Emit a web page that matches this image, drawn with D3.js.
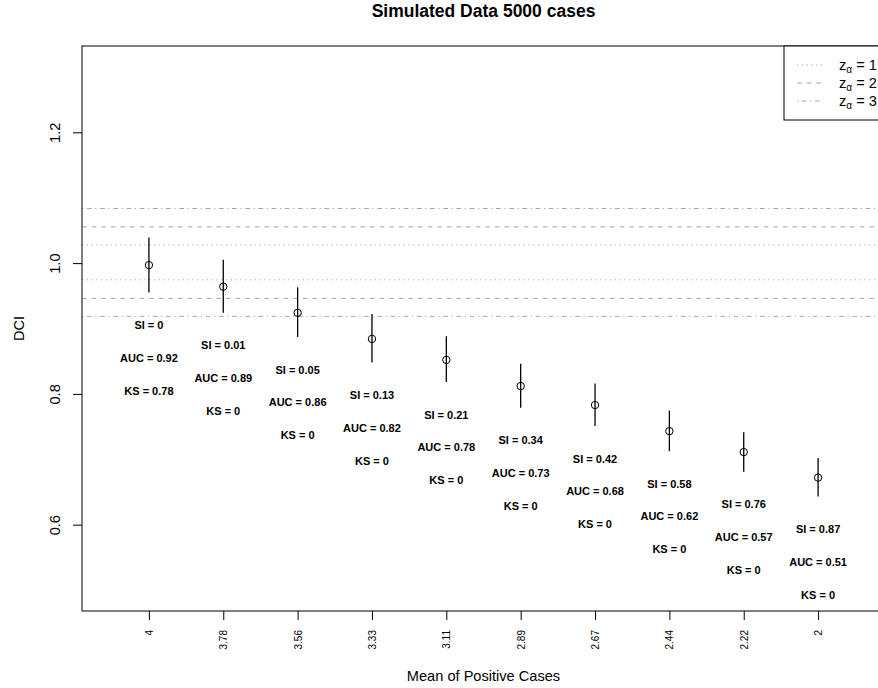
<!DOCTYPE html>
<html>
<head>
<meta charset="utf-8">
<script src="https://cdn.jsdelivr.net/npm/d3@7"></script>
<style>
  html, body { margin: 0; padding: 0; background: #fff; }
  svg { display: block; font-family: "Liberation Sans", Arial, Helvetica, sans-serif; }
</style>
</head>
<body>
<svg id="chart" width="878" height="688"></svg>
<script>
// Mean of the positive cases for each simulated scenario (tick labels)
const meanLabels = ["4", "3.78", "3.56", "3.33", "3.11", "2.89", "2.67", "2.44", "2.22", "2"];
// DCI estimate with its interval
const dci      = [0.997, 0.964, 0.924, 0.884, 0.852, 0.812, 0.783, 0.743, 0.711, 0.672];
const dciLower = [0.955, 0.924, 0.887, 0.848, 0.818, 0.779, 0.751, 0.7125, 0.681, 0.643];
const dciUpper = [1.039, 1.005, 0.963, 0.922, 0.888, 0.846, 0.816, 0.7745, 0.7415, 0.702];
// Summary statistics printed under each interval
const siValues  = ["0", "0.01", "0.05", "0.13", "0.21", "0.34", "0.42", "0.58", "0.76", "0.87"];
const aucValues = ["0.92", "0.89", "0.86", "0.82", "0.78", "0.73", "0.68", "0.62", "0.57", "0.51"];
const ksValues  = ["0.78", "0", "0", "0", "0", "0", "0", "0", "0", "0"];
// Reference bands around DCI = 1 for z_alpha = 1, 2, 3
const zLevels = [1, 2, 3];
const zLower  = [0.9745, 0.946, 0.9186];
const zUpper  = [1.028, 1.0554, 1.0835];
const zDash   = ["1.2,3.6", "4.8,4.8", "1.2,3.6,4.8,3.6"];
const yTicks  = [0.6, 0.8, 1.0, 1.2];

const svg = d3.select("#chart");
const pLeft = 82, pRight = 885, pTop = 46, pBottom = 611;

const x = d3.scaleLinear().domain([0.1, 10.9]).range([pLeft, pRight]);
const y = d3.scaleLinear().domain([0.468, 1.332]).range([pBottom, pTop]);
const idx = d3.range(1, meanLabels.length + 1);

// Reference lines
const plot = svg.append("g");
zLevels.forEach((z, i) => {
  [zLower[i], zUpper[i]].forEach(v => {
    plot.append("line")
      .attr("x1", pLeft).attr("x2", pRight)
      .attr("y1", y(v)).attr("y2", y(v))
      .attr("stroke", "#a8a8a8").attr("stroke-width", 1)
      .attr("stroke-dasharray", zDash[i]);
  });
});

// Interval bars
plot.selectAll(".bar").data(idx).enter().append("line")
  .attr("x1", d => x(d)).attr("x2", d => x(d))
  .attr("y1", d => y(dciLower[d - 1])).attr("y2", d => y(dciUpper[d - 1]))
  .attr("stroke", "#000").attr("stroke-width", 1.3);

// Point estimates
plot.selectAll(".pt").data(idx).enter().append("circle")
  .attr("cx", d => x(d)).attr("cy", d => y(dci[d - 1]))
  .attr("r", 3.7).attr("fill", "none").attr("stroke", "#000").attr("stroke-width", 1);

// Statistic labels below each interval
const statRows = [
  { name: "SI", vals: siValues, off: 0.05 },
  { name: "AUC", vals: aucValues, off: 0.10 },
  { name: "KS", vals: ksValues, off: 0.15 }
];
statRows.forEach(row => {
  plot.selectAll(null).data(idx).enter().append("text")
    .attr("x", d => x(d)).attr("y", d => y(dciLower[d - 1] - row.off))
    .attr("dy", "0.36em")
    .attr("text-anchor", "middle")
    .attr("font-size", 11).attr("font-weight", "bold")
    .text(d => row.name + " = " + row.vals[d - 1]);
});

// Plot frame
svg.append("rect")
  .attr("x", pLeft).attr("y", pTop)
  .attr("width", pRight - pLeft).attr("height", pBottom - pTop)
  .attr("fill", "none").attr("stroke", "#000").attr("stroke-width", 1);

// Y axis
const yAxis = svg.append("g").attr("transform", `translate(${pLeft},0)`)
  .call(d3.axisLeft(y).tickValues(yTicks).tickSize(9).tickFormat(d3.format(".1f")));
yAxis.select(".domain").remove();
yAxis.selectAll("line").attr("stroke", "#000");
yAxis.selectAll("text").remove();
yAxis.selectAll(".tick").append("text")
  .attr("transform", "translate(-22,0) rotate(-90)")
  .attr("text-anchor", "middle")
  .attr("fill", "#000")
  .attr("font-size", 14.6)
  .text(d => d3.format(".1f")(d));

// X axis
const xAxis = svg.append("g").attr("transform", `translate(0,${pBottom})`)
  .call(d3.axisBottom(x).tickValues(idx).tickSize(9).tickFormat(d => meanLabels[d - 1]));
xAxis.select(".domain").remove();
xAxis.selectAll("line").attr("stroke", "#000");
xAxis.selectAll("text")
  .attr("transform", "translate(0,19) rotate(-90)")
  .attr("x", 0).attr("y", 0).attr("dy", "0.36em")
  .attr("text-anchor", "end")
  .attr("fill", "#000")
  .attr("font-size", 10)
  .attr("font-family", "Liberation Sans, Arial, sans-serif");

// Axis titles
svg.append("text")
  .attr("x", (pLeft + pRight) / 2).attr("y", 681)
  .attr("text-anchor", "middle").attr("font-size", 14.6)
  .text("Mean of Positive Cases");
svg.append("text")
  .attr("transform", `translate(23.5,${(pTop + pBottom) / 2}) rotate(-90)`)
  .attr("text-anchor", "middle").attr("font-size", 14.6)
  .text("DCI");
svg.append("text")
  .attr("x", (pLeft + pRight) / 2).attr("y", 17)
  .attr("text-anchor", "middle").attr("font-size", 17.5).attr("font-weight", "bold")
  .text("Simulated Data 5000 cases");

// Legend
const lg = svg.append("g");
lg.append("rect")
  .attr("x", 784).attr("y", pTop).attr("width", pRight - 784).attr("height", 74)
  .attr("fill", "#fff").attr("stroke", "#000").attr("stroke-width", 1);
zLevels.forEach((z, i) => {
  const ly = 65 + i * 18;
  lg.append("line")
    .attr("x1", 797).attr("x2", 822).attr("y1", ly).attr("y2", ly)
    .attr("stroke", "#a8a8a8").attr("stroke-width", 1)
    .attr("stroke-dasharray", zDash[i]);
  const t = lg.append("text").attr("x", 839).attr("y", ly).attr("dy", "0.36em")
    .attr("font-size", 14.6);
  t.append("tspan").text("z");
  t.append("tspan").attr("dy", 3).attr("font-size", 10).text("α");
  t.append("tspan").attr("dy", -3).text(" = " + z);
});
</script>
</body>
</html>
